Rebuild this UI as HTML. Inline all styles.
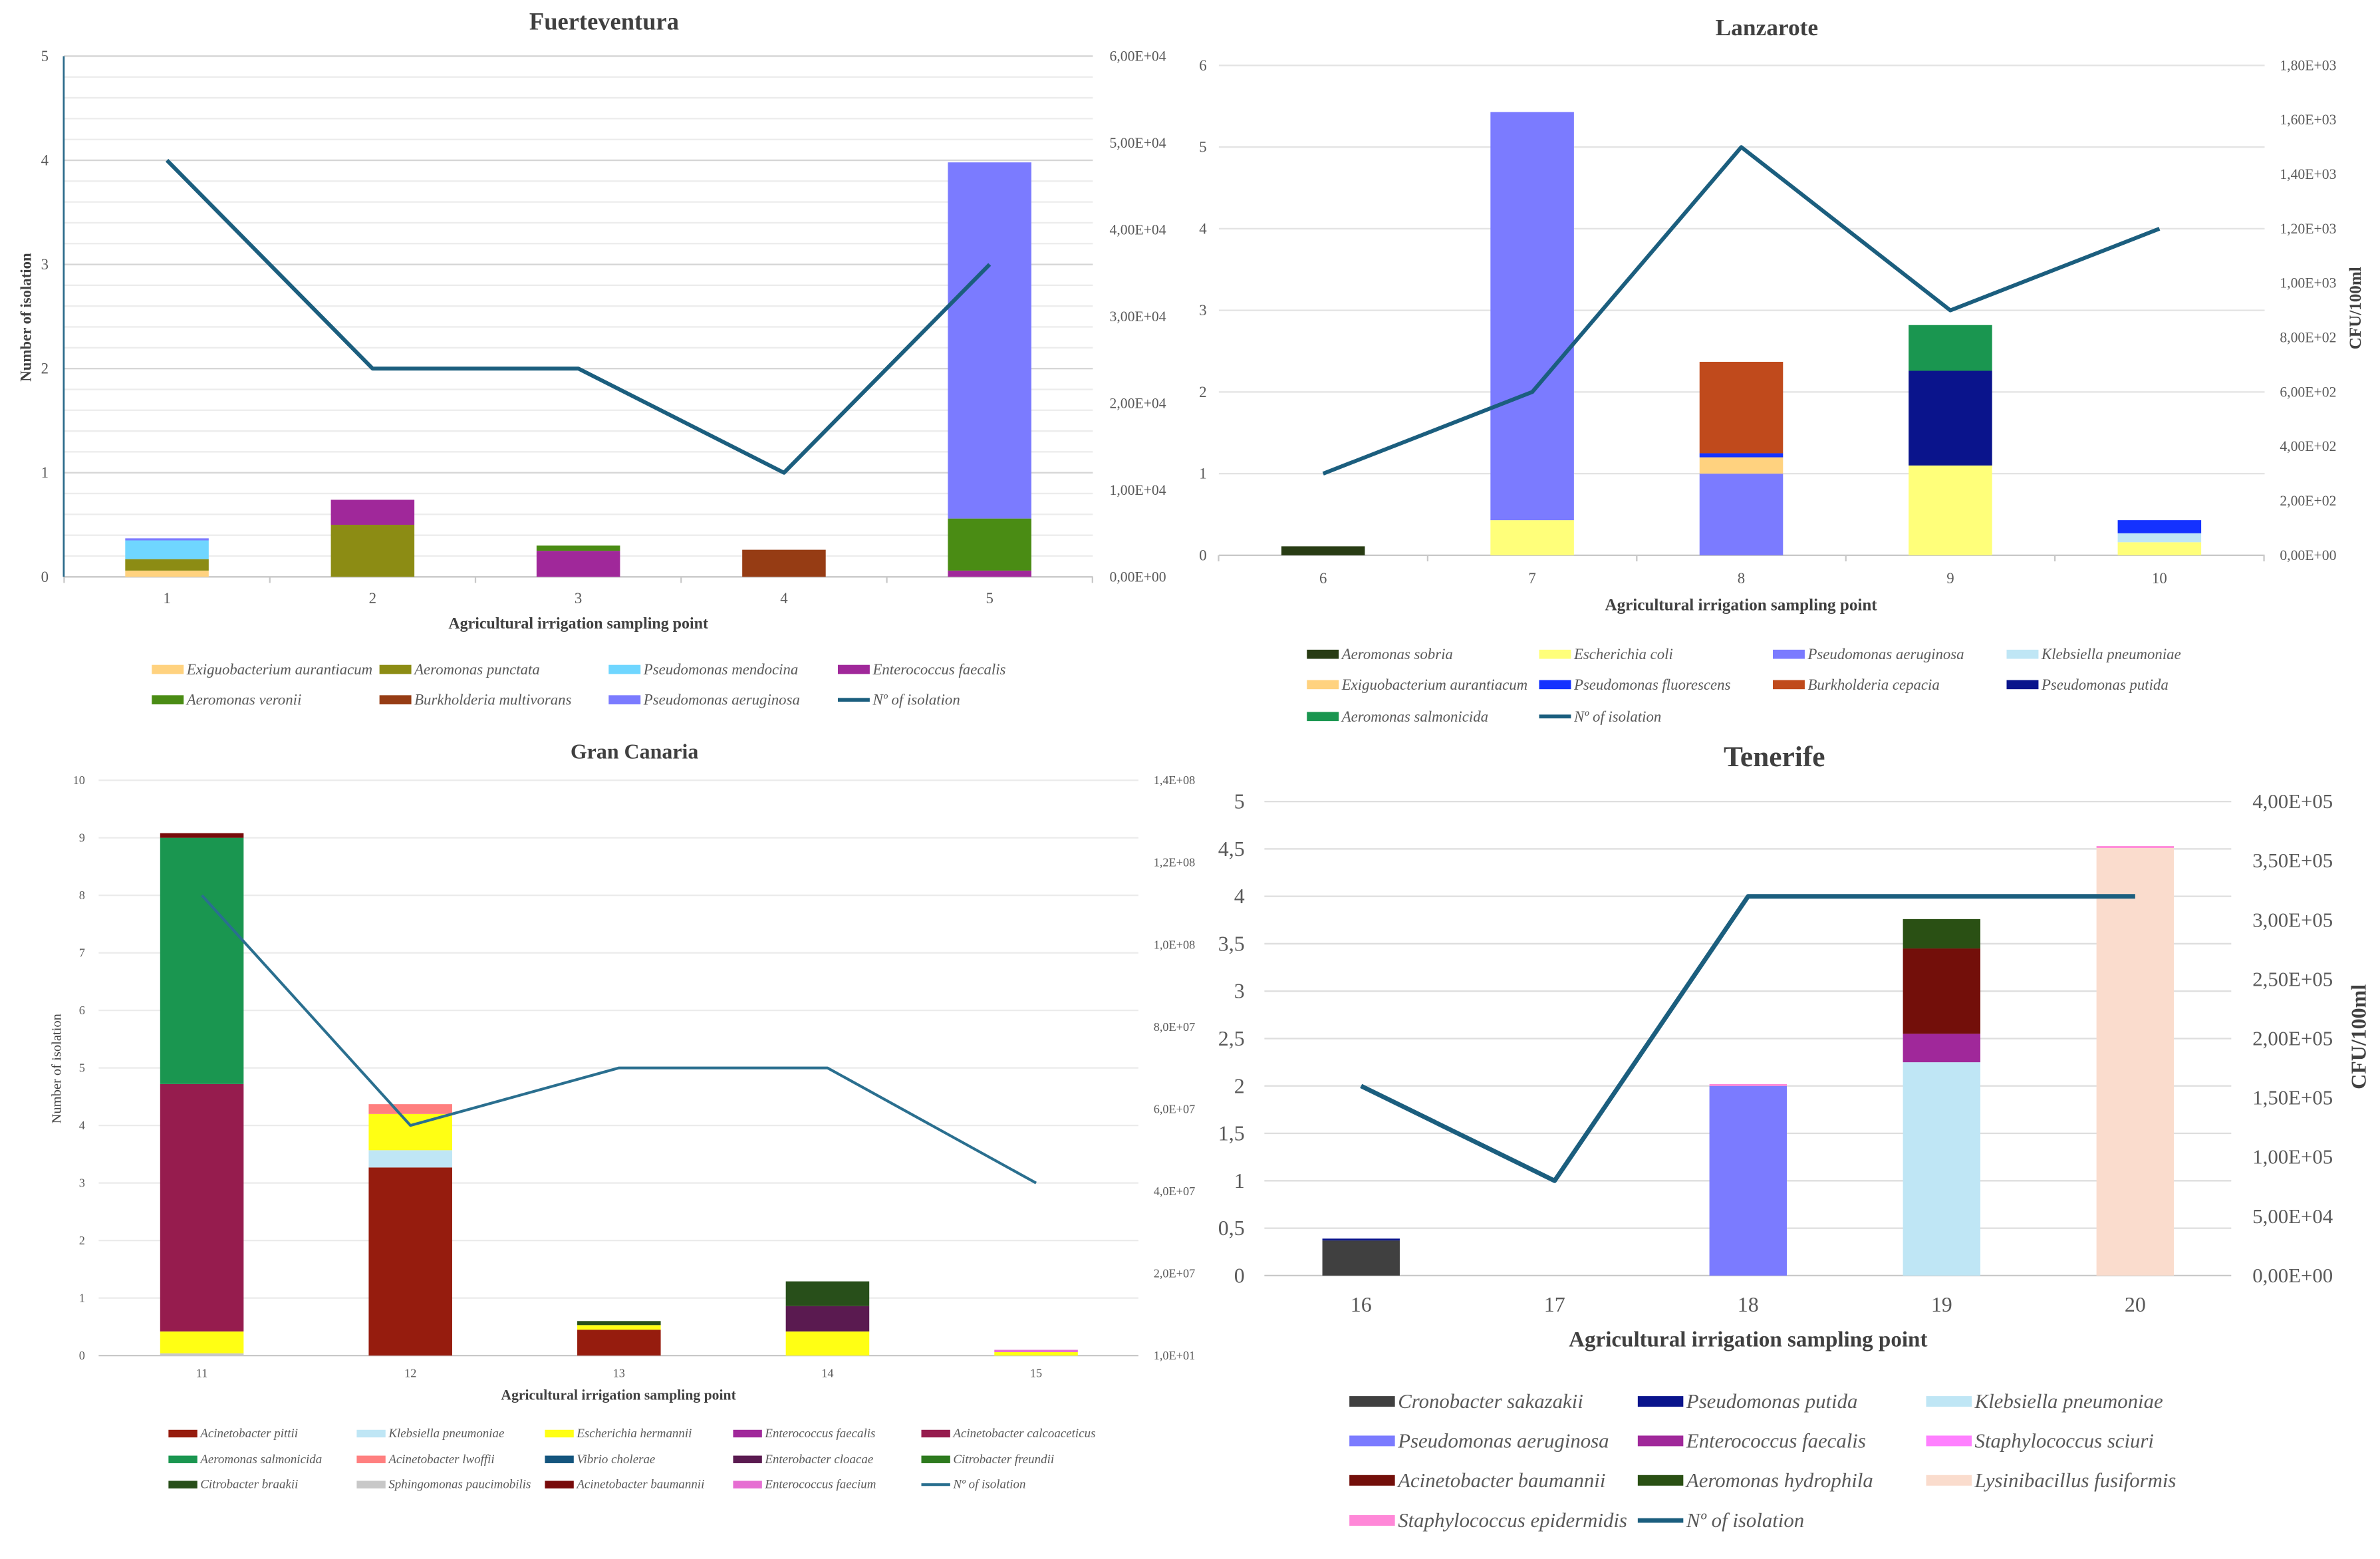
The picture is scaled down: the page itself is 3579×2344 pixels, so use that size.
<!DOCTYPE html>
<html><head><meta charset="utf-8"><style>
html,body{margin:0;padding:0;background:#fff;}
svg{display:block;}
</style></head><body>
<svg id="fig" width="3579" height="2344" viewBox="0 0 1568 1027" preserveAspectRatio="none" xmlns="http://www.w3.org/2000/svg"></svg>
<script>
// ---------- Fuerteventura data ----------
const fCategories = ['1','2','3','4','5'];
const fLine = [4, 2, 2, 1, 3];
const fNames = ['Exiguobacterium aurantiacum','Aeromonas punctata','Enterococcus faecalis','Aeromonas veronii','Pseudomonas mendocina','Burkholderia multivorans','Pseudomonas aeruginosa'];
const fColors = ['#FFD27F','#8C8C14','#A0289A','#4A8C14','#6FD6FF','#963C14','#7B7BFF'];
const fValues = [
  [0.06, 0, 0, 0, 0],
  [0.11, 0.5, 0, 0, 0],
  [0, 0.24, 0.25, 0, 0.06],
  [0, 0, 0.05, 0, 0.50],
  [0.18, 0, 0, 0, 0],
  [0, 0, 0, 0.26, 0],
  [0.02, 0, 0, 0, 3.42]
];
const fLegendOrder = [0,1,4,2,3,5,6];
const fLeftTicks = ['0','1','2','3','4','5'];
const fRightTicks = ['0,00E+00','1,00E+04','2,00E+04','3,00E+04','4,00E+04','5,00E+04','6,00E+04'];

// ---------- Lanzarote data ----------
const lCategories = ['6','7','8','9','10'];
const lLine = [1, 2, 5, 3, 4];
const lNames = ['Escherichia coli','Klebsiella pneumoniae','Pseudomonas aeruginosa','Exiguobacterium aurantiacum','Pseudomonas fluorescens','Burkholderia cepacia','Pseudomonas putida','Aeromonas salmonicida','Aeromonas sobria'];
const lColors = ['#FFFF7A','#BFE6F5','#7B7BFF','#FFD27F','#1432FF','#C04A1C','#0A148C','#1A9650','#283C14'];
const lValues = [
  [0, 0.43, 0, 1.10, 0.16],
  [0, 0, 0, 0, 0.11],
  [0, 5.0, 1.0, 0, 0],
  [0, 0, 0.20, 0, 0],
  [0, 0, 0.05, 0, 0.16],
  [0, 0, 1.12, 0, 0],
  [0, 0, 0, 1.16, 0],
  [0, 0, 0, 0.56, 0],
  [0.11, 0, 0, 0, 0]
];
const lLegendOrder = [8,0,2,1,3,4,5,6,7];
const lLeftTicks = ['0','1','2','3','4','5','6'];
const lRightTicks = ['0,00E+00','2,00E+02','4,00E+02','6,00E+02','8,00E+02','1,00E+03','1,20E+03','1,40E+03','1,60E+03','1,80E+03'];

// ---------- Gran Canaria data ----------
const gCategories = ['11','12','13','14','15'];
const gLine = [8, 4, 5, 5, 3];
const gNames = ['Sphingomonas paucimobilis','Acinetobacter pittii','Klebsiella pneumoniae','Escherichia hermannii','Acinetobacter calcoaceticus','Aeromonas salmonicida','Acinetobacter lwoffii','Enterobacter cloacae','Citrobacter braakii','Acinetobacter baumannii','Enterococcus faecium','Enterococcus faecalis','Vibrio cholerae','Citrobacter freundii'];
const gColors = ['#C8C8C8','#961C0E','#BFE6F5','#FFFF14','#961C4E','#1A9650','#FF7F7F','#5A1A50','#284F1A','#780A0A','#E66ED2','#A0289A','#14557E','#2D7A1E'];
const gValues = [
  [0.04, 0, 0, 0, 0],
  [0, 3.27, 0.45, 0, 0],
  [0, 0.30, 0, 0, 0],
  [0.38, 0.63, 0.08, 0.42, 0.06],
  [4.30, 0, 0, 0, 0],
  [4.28, 0, 0, 0, 0],
  [0, 0.17, 0, 0, 0],
  [0, 0, 0, 0.44, 0],
  [0, 0, 0.07, 0.43, 0],
  [0.08, 0, 0, 0, 0],
  [0, 0, 0, 0, 0.04],
  [0, 0, 0, 0, 0],
  [0, 0, 0, 0, 0],
  [0, 0, 0, 0, 0]
];
const gLegendOrder = [1,2,3,11,4,5,6,12,7,13,8,0,9,10];
const gLeftTicks = ['0','1','2','3','4','5','6','7','8','9','10'];
const gRightTicks = ['1,0E+01','2,0E+07','4,0E+07','6,0E+07','8,0E+07','1,0E+08','1,2E+08','1,4E+08'];

// ---------- Tenerife data ----------
const tCategories = ['16','17','18','19','20'];
const tLine = [2, 1, 4, 4, 4];
const tNames = ['Cronobacter sakazakii','Pseudomonas putida','Klebsiella pneumoniae','Pseudomonas aeruginosa','Enterococcus faecalis','Staphylococcus sciuri','Acinetobacter baumannii','Aeromonas hydrophila','Lysinibacillus fusiformis','Staphylococcus epidermidis'];
const tColors = ['#404040','#0A148C','#BFE6F5','#7B7BFF','#A0289A','#FF80FF','#730F0A','#2A5014','#FADCCD','#FF88D8'];
const tValues = [
  [0.37, 0, 0, 0, 0],
  [0.02, 0, 0, 0, 0],
  [0, 0, 0, 2.25, 0],
  [0, 0, 2.0, 0, 0],
  [0, 0, 0, 0.30, 0],
  [0, 0, 0, 0, 0],
  [0, 0, 0, 0.90, 0],
  [0, 0, 0, 0.31, 0],
  [0, 0, 0, 0, 4.51],
  [0, 0, 0.02, 0, 0.02]
];
// stacking order for Tenerife (sciuri on top of lysinibacillus)
const tStackOrder = [0,1,2,3,4,6,7,8,9,5];
const tLegendOrder = [0,1,2,3,4,5,6,7,8,9];
const tLeftTicks = ['0','0,5','1','1,5','2','2,5','3','3,5','4','4,5','5'];
const tRightTicks = ['0,00E+00','5,00E+04','1,00E+05','1,50E+05','2,00E+05','2,50E+05','3,00E+05','3,50E+05','4,00E+05'];

const NS = 'http://www.w3.org/2000/svg';
const svg = document.getElementById('fig');
const SERIF = '"Liberation Serif", serif';

function mk(tag, attrs, parent) {
  const e = document.createElementNS(NS, tag);
  for (const k in attrs) e.setAttribute(k, attrs[k]);
  (parent || svg).appendChild(e);
  return e;
}
function txt(parent, s, x, y, size, opts) {
  opts = opts || {};
  const t = mk('text', {x: x, y: y, 'font-size': size, 'font-family': SERIF, fill: opts.fill || '#595959',
    'text-anchor': opts.anchor || 'middle', 'dominant-baseline': 'central'}, parent);
  if (opts.bold) t.setAttribute('font-weight', 'bold');
  if (opts.italic) t.setAttribute('font-style', 'italic');
  if (opts.rot) t.setAttribute('transform', 'rotate(-90 ' + x + ' ' + y + ')');
  t.textContent = s;
  return t;
}

function drawPanel(P) {
  const g = mk('g', {});
  
  
  const yScale = v => P.yBase - v * P.ppu;
  const xScale = i => P.cat0 + i * P.catStep;
  const yMax = P.leftTicks.length - 1;
  const tickVal = i => i * P.tickStep;
  const topVal = yMax * P.tickStep;

  // title
  const title = txt(g, P.title, P.titleX, P.titleY, P.titleSize, {bold: true, fill: '#404040'});
  
  

  // grid
  const grid = mk('g', {}, g);
  
  
  if (P.minor) {
    const n = Math.round(topVal / P.minor);
    for (let i = 1; i <= n; i++) {
      const y = yScale(i * P.minor);
      mk('line', {x1: P.x0, x2: P.x1, y1: y, y2: y, stroke: '#ececec', 'stroke-width': 1}, grid);
    }
  }
  for (let i = 1; i <= yMax; i++) {
    const y = yScale(tickVal(i));
    mk('line', {x1: P.x0, x2: P.x1, y1: y, y2: y, stroke: P.gridColor, 'stroke-width': 1}, grid);
  }
  // baseline
  const base = mk('line', {x1: P.x0, x2: P.x1, y1: P.yBase, y2: P.yBase, stroke: '#c8c8c8', 'stroke-width': 1}, g);
  
  
  if (P.xTicks) {
    for (let i = 0; i <= P.categories.length; i++) {
      const x = P.cat0 + (i - 0.5) * P.catStep;
      mk('line', {x1: x, x2: x, y1: P.yBase, y2: P.yBase + 4, stroke: '#c8c8c8', 'stroke-width': 1}, g);
    }
  }
  if (P.leftAxis) {
    const la = mk('line', {x1: P.x0, x2: P.x0, y1: yScale(topVal), y2: P.yBase, stroke: '#2a6a8a', 'stroke-width': 1.2}, g);
    
    
  }

  // left ticks
  P.leftTicks.forEach((s, i) => {
    const t = txt(g, s, P.leftX, yScale(tickVal(i)), P.tickSize, {anchor: 'end'});
    
    
  });
  // right ticks
  const nR = P.rightTicks.length - 1;
  P.rightTicks.forEach((s, i) => {
    const y = P.yBase - (P.yBase - yScale(topVal)) * i / nR;
    const t = txt(g, s, P.rightX, y, P.rightSize, {anchor: 'start'});
    
    
  });
  // category labels
  P.categories.forEach((c, i) => {
    const t = txt(g, c, xScale(i), P.catLabelY, P.catSize, {});
    
    
  });

  // bars
  const order = P.stackOrder || P.names.map((_, i) => i);
  P.categories.forEach((c, ci) => {
    let acc = 0;
    order.forEach(si => {
      const v = P.values[si][ci];
      if (!v) return;
      const yTop = yScale(acc + v), yBot = yScale(acc);
      const r = mk('rect', {x: xScale(ci) - P.barW / 2, y: yTop, width: P.barW, height: yBot - yTop, fill: P.colors[si]}, g);
      
      
      acc += v;
    });
  });

  // line
  const pts = P.line.map((v, i) => xScale(i) + ',' + yScale(v)).join(' ');
  const pl = mk('polyline', {points: pts, fill: 'none', stroke: P.lineColor, 'stroke-width': P.lineW, 'stroke-linejoin': 'round'}, g);
  
  

  // axis titles
  const xt = txt(g, 'Agricultural irrigation sampling point', P.xTitleX, P.xTitleY, P.xTitleSize, {bold: true, fill: '#404040'});
  
  
  if (P.yTitle) {
    const yt = txt(g, P.yTitle.text, P.yTitle.x, P.yTitle.y, P.yTitle.size, {bold: P.yTitle.bold, rot: true, fill: '#404040'});
    
    
  }
  if (P.y2Title) {
    const yt = txt(g, P.y2Title.text, P.y2Title.x, P.y2Title.y, P.y2Title.size, {bold: true, rot: true, fill: '#404040'});
    
    
  }

  // legend
  const items = P.legendOrder.map(i => ({name: P.names[i], color: P.colors[i], line: false}));
  items.push({name: 'Nº of isolation', color: P.lineColor, line: true});
  const lg = mk('g', {}, g);
  
  
  items.forEach((it, k) => {
    const col = k % P.legCols.length, row = Math.floor(k / P.legCols.length);
    const x = P.legCols[col], y = P.legRows[row];
    const e = mk('g', {}, lg);
    
    
    if (it.line) {
      mk('line', {x1: x, x2: x + P.swW, y1: y, y2: y, stroke: it.color, 'stroke-width': P.legLineW}, e);
    } else {
      mk('rect', {x: x, y: y - P.swH / 2, width: P.swW, height: P.swH, fill: it.color}, e);
    }
    txt(e, it.name, x + P.swW + 2, y, P.legSize, {italic: true, anchor: 'start'});
  });
}

drawPanel({
  id: 'fuerteventura', title: 'Fuerteventura', titleX: 398, titleY: 14, titleSize: 16,
  categories: fCategories, line: fLine, names: fNames, colors: fColors, values: fValues, legendOrder: fLegendOrder,
  leftTicks: fLeftTicks, rightTicks: fRightTicks, tickStep: 1, minor: 0.2, gridColor: '#d6d6d6',
  x0: 42, x1: 720, yBase: 380, ppu: 68.6, cat0: 110, catStep: 135.5, barW: 55,
  leftX: 32, tickSize: 10, rightX: 731, rightSize: 9.5, catLabelY: 394, catSize: 10,
  lineColor: '#1B5E7E', lineW: 2.6, xTicks: true, leftAxis: true,
  xTitleX: 381, xTitleY: 411, xTitleSize: 10.5,
  yTitle: {text: 'Number of isolation', x: 17, y: 209, size: 10, bold: true},
  legCols: [100, 250, 401, 552], legRows: [441, 461], swW: 21, swH: 6, legSize: 10, legLineW: 2.5
});

drawPanel({
  id: 'lanzarote', title: 'Lanzarote', titleX: 1164, titleY: 18, titleSize: 15.5,
  categories: lCategories, line: lLine, names: lNames, colors: lColors, values: lValues, legendOrder: lLegendOrder,
  leftTicks: lLeftTicks, rightTicks: lRightTicks, tickStep: 1, minor: 0, gridColor: '#e3e3e3',
  x0: 803, x1: 1492, yBase: 365.8, ppu: 53.78, cat0: 871.7, catStep: 137.75, barW: 55,
  leftX: 795, tickSize: 10, rightX: 1502, rightSize: 9.5, catLabelY: 381, catSize: 10,
  lineColor: '#1B5E7E', lineW: 2.6, xTicks: true, leftAxis: false,
  xTitleX: 1147, xTitleY: 398.6, xTitleSize: 11,
  y2Title: {text: 'CFU/100ml', x: 1552, y: 203, size: 11},
  legCols: [861, 1014, 1168, 1322], legRows: [431, 451, 472], swW: 21, swH: 6, legSize: 10, legLineW: 2.5
});

drawPanel({
  id: 'gran-canaria', title: 'Gran Canaria', titleX: 418, titleY: 495, titleSize: 14,
  categories: gCategories, line: gLine, names: gNames, colors: gColors, values: gValues, legendOrder: gLegendOrder,
  leftTicks: gLeftTicks, rightTicks: gRightTicks, tickStep: 1, minor: 0, gridColor: '#ebebeb',
  x0: 65, x1: 750, yBase: 893, ppu: 37.9, cat0: 133, catStep: 137.4, barW: 55,
  leftX: 56, tickSize: 8, rightX: 760, rightSize: 8, catLabelY: 904.5, catSize: 8,
  lineColor: '#2A6F8F', lineW: 1.8, xTicks: false, leftAxis: false,
  xTitleX: 407.5, xTitleY: 919, xTitleSize: 9.5,
  yTitle: {text: 'Number of isolation', x: 37.5, y: 704, size: 9, bold: false},
  legCols: [111, 235, 359, 483, 607], legRows: [944.4, 961.4, 978], swW: 19, swH: 5, legSize: 8.3, legLineW: 1.8
});

drawPanel({
  id: 'tenerife', title: 'Tenerife', titleX: 1169, titleY: 498.5, titleSize: 19,
  categories: tCategories, line: tLine, names: tNames, colors: tColors, values: tValues, legendOrder: tLegendOrder,
  stackOrder: tStackOrder,
  leftTicks: tLeftTicks, rightTicks: tRightTicks, tickStep: 0.5, minor: 0, gridColor: '#dedede',
  x0: 833, x1: 1470, yBase: 840.3, ppu: 62.46, cat0: 896.7, catStep: 127.5, barW: 51,
  leftX: 820, tickSize: 14, rightX: 1484, rightSize: 13.5, catLabelY: 859.4, catSize: 14,
  lineColor: '#1B5E7E', lineW: 3, xTicks: false, leftAxis: false,
  xTitleX: 1151.7, xTitleY: 882.6, xTitleSize: 14.5,
  y2Title: {text: 'CFU/100ml', x: 1554, y: 683, size: 14},
  legCols: [889, 1079, 1269], legRows: [923.2, 949.2, 975.2, 1001.6], swW: 30, swH: 7, legSize: 13.5, legLineW: 3
});
</script>
</body></html>
